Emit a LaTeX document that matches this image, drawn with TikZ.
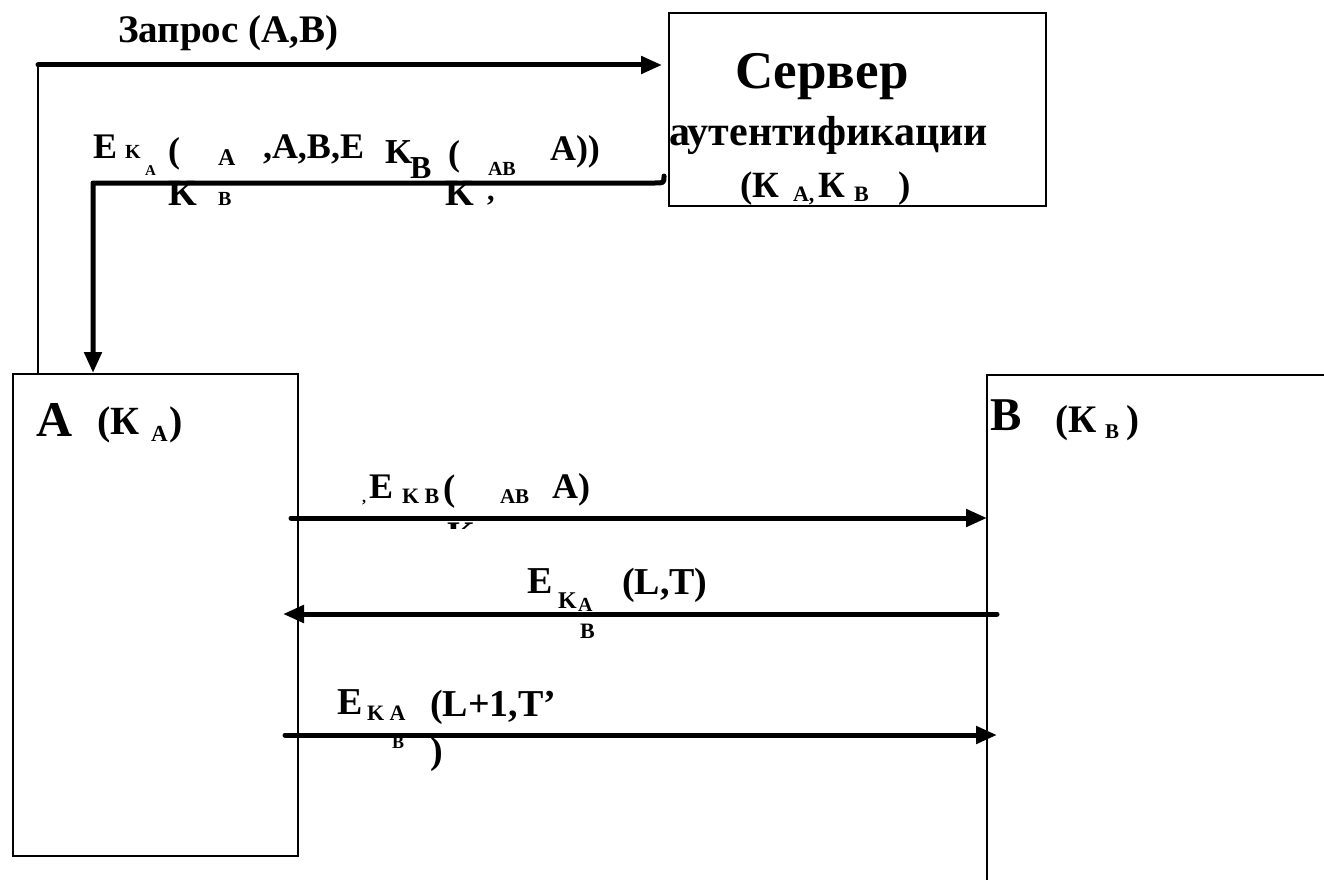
\documentclass[tikz,border=0pt]{standalone}
\usepackage{fontspec}
\setmainfont{Liberation Serif}
\usetikzlibrary{arrows.meta}
\newcommand\tsz[1]{\fontsize{#1}{#1}\selectfont\bfseries}
\begin{document}
\begin{tikzpicture}[x=1pt,y=-1pt,
  lbl/.style={inner sep=0pt, outer sep=0pt, anchor=base west},
  thickln/.style={line width=5pt, line cap=round, line join=round},
  tip/.style={-{Triangle[length=21pt,width=17pt]}},
  thinbox/.style={draw, line width=1.6pt, inner sep=0pt, anchor=north west}]
\useasboundingbox (0,0) rectangle (1324,880);
% boxes
\node[thinbox, minimum width=377pt, minimum height=193pt] (srv) at (668,12) {};
\node[thinbox, minimum width=285pt, minimum height=482pt] (abox) at (12,373) {};
\node[inner sep=0pt, anchor=north west, minimum width=337pt, minimum height=505pt] (bbox) at (987,375) {};
\draw[line width=1.6pt] (bbox.north east) -- (bbox.north west) -- (bbox.south west);
% server text
\node[lbl, font=\tsz{53}] (s1) at (735,89) {Сервер};
\node[lbl, font=\tsz{42}] (s2) at (669,145) {аутентификации};
\node[lbl, font=\tsz{37}] (s3a) at (740,197) {(К};
\node[lbl, font=\tsz{22}] (s3b) at (793,201) {A,};
\node[lbl, font=\tsz{37}] (s3c) at (818,197) {К};
\node[lbl, font=\tsz{22}] (s3d) at (854,201) {B};
\node[lbl, font=\tsz{37}] (s3e) at (898,197) {)};
% A and B labels
\node[lbl, font=\tsz{50}] (a1) at (36,436) {A};
\node[lbl, font=\tsz{40}] (a2) at (97,434) {(К};
\node[lbl, font=\tsz{23}] (a3) at (151,441) {A};
\node[lbl, font=\tsz{40}] (a4) at (169,434) {)};
\node[lbl, font=\tsz{47}] (b1) at (990,430) {B};
\node[lbl, font=\tsz{39}] (b2) at (1055,432) {(К};
\node[lbl, font=\tsz{21}] (b3) at (1105,438) {B};
\node[lbl, font=\tsz{39}] (b4) at (1126,432) {)};
% top request
\node[lbl, font=\tsz{39}] (q) at (118,43) {Запрос (A,B)};
\coordinate (q0) at (38,65);
\coordinate (q1) at (662,65);
\draw[thickln, tip] (q0) -- (q1);
\draw[line width=1.5pt] (q0) -- (q0 |- abox.north);
% server reply label
\node[lbl, font=\tsz{36}] (r1) at (93,158) {E};
\node[lbl, font=\tsz{20}] (r2) at (125,158) {K};
\node[lbl, font=\tsz{15}] (r3) at (145,175) {A};
\node[lbl, font=\tsz{36}] (r4) at (168,162) {(};
\node[lbl, font=\tsz{24}] (r5) at (218,165) {A};
\node[lbl, font=\tsz{36}] (r6) at (263,158) {,A,B,E};
\node[lbl, font=\tsz{35}] (r7) at (385,163) {K};
\node[lbl, font=\tsz{32}] (r8) at (410,178) {B};
\node[lbl, font=\tsz{36}] (r9) at (448,165) {(};
\node[lbl, font=\tsz{20}] (r10) at (488,175) {AB};
\node[lbl, font=\tsz{36}] (r11) at (550,160) {A))};
\node[lbl, font=\tsz{37}] (r12) at (168,205) {K};
\node[lbl, font=\tsz{20}] (r13) at (218,205) {B};
\node[lbl, font=\tsz{37}] (r14) at (445,205) {K};
\node[lbl, font=\tsz{30}] (r15) at (487,200) {,};
\coordinate (c2s) at (664,176);
\coordinate (c2m) at (655,183);
\coordinate (c2c) at (93,183);
\draw[thickln, tip] (c2s) .. controls (664,183) .. (c2m) -- (c2c) -- (c2c |- abox.north);
% message 1
\node[lbl, font=\tsz{16}] (m1a) at (362,502) {,};
\node[lbl, font=\tsz{36}] (m1b) at (369,498) {E};
\node[lbl, font=\tsz{22}] (m1c) at (402,503) {K B};
\node[lbl, font=\tsz{37}] (m1d) at (443,500) {(};
\node[lbl, font=\tsz{21}] (m1e) at (500,503) {AB};
\node[lbl, font=\tsz{36}] (m1f) at (552,498) {A)};
\begin{scope}
\clip (440,520) rectangle (480,528);
\node[lbl, font=\tsz{36}] (m1g) at (447,546) {K,};
\end{scope}
\coordinate (m1s) at (291,518);
\draw[thickln, tip] (m1s) -- (m1s -| bbox.west);
% message 2
\node[lbl, font=\tsz{38}] (m2a) at (527,593) {E};
\node[lbl, font=\tsz{24}] (m2b) at (558,608) {K};
\node[lbl, font=\tsz{20}] (m2c) at (578,611) {A};
\node[lbl, font=\tsz{38}] (m2d) at (622,594) {(L,T)};
\node[lbl, font=\tsz{22}] (m2e) at (580,638) {B};
\coordinate (m2s) at (997,614);
\coordinate (m2t) at (283,614);
\draw[thickln, tip] (m2s) -- (m2t);
% message 3
\node[lbl, font=\tsz{38}] (m3a) at (337,714) {E};
\node[lbl, font=\tsz{22}] (m3b) at (367,720) {K A};
\node[lbl, font=\tsz{38}] (m3c) at (430,716) {(L+1,T’};
\node[lbl, font=\tsz{18}] (m3d) at (392,748) {B};
\node[lbl, font=\tsz{38}] (m3e) at (430,763) {)};
\coordinate (m3s) at (285,735);
\coordinate (m3t) at (997,735);
\draw[thickln, tip] (m3s) -- (m3t);
\end{tikzpicture}
\end{document}
